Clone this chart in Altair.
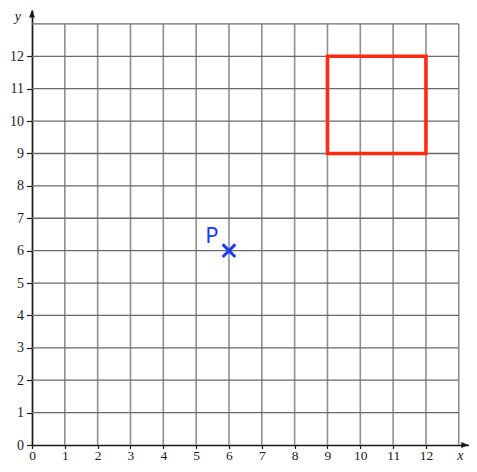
import altair as alt
import pandas as pd

# ---- data ----
tick_values = list(range(0, 13))
grid_lines = list(range(1, 14))
grid_max = 13
x_axis_max = 13.3
y_axis_max = 13.43

square_x = [9]
square_x2 = [12]
square_y = [9]
square_y2 = [12]

point_x = [6]
point_y = [6]
point_label = ["P"]

UX = 32.83
WX = x_axis_max * UX
PAD_L = 24
PAD_T = 2
SVG_W = 461
SVG_H = 456
HY = 435
UY = HY / y_axis_max

xs = alt.Scale(domain=[0, x_axis_max], nice=False, zero=False)
ys = alt.Scale(domain=[0, y_axis_max], nice=False, zero=False)

axis_common = dict(
    labelFont="Liberation Serif", labelColor="#1a1a1a",
    domainColor="#1a1a1a", domainWidth=1.7, tickColor="#1a1a1a", tickWidth=1.2,
    grid=False, title=None, values=tick_values, format="d",
    labelOverlap=False, labelFlush=False,
)
x_axis = alt.Axis(orient="bottom", labelPadding=0, tickSize=3.5, labelFontSize=13.5, **axis_common)
y_axis = alt.Axis(orient="left", labelPadding=3, tickSize=5.5, labelFontSize=14, **axis_common)


def X(f):
    return alt.X(f, scale=xs, axis=x_axis)


def Y(f):
    return alt.Y(f, scale=ys, axis=y_axis)


vdf = pd.DataFrame({"x": grid_lines, "y": [0] * len(grid_lines), "y2": [grid_max] * len(grid_lines)})
hdf = pd.DataFrame({"y": grid_lines, "x": [0] * len(grid_lines), "x2": [grid_max] * len(grid_lines)})

vgrid = alt.Chart(vdf).mark_rule(color="#8f8f8f", strokeWidth=1.6).encode(
    x=X("x:Q"), y=Y("y:Q"), y2="y2:Q"
)
hgrid = alt.Chart(hdf).mark_rule(color="#6a6a6a", strokeWidth=1.3).encode(
    x=X("x:Q"), x2="x2:Q", y=Y("y:Q")
)

r_arrow = 3.7
arrows = pd.DataFrame({
    "x": [x_axis_max - r_arrow / UX, 0],
    "y": [0, y_axis_max - r_arrow / UY],
    "a": [90, 0],
})
arrow_marks = alt.Chart(arrows).mark_point(
    shape="M -0.8 1 L 0 -1 L 0.8 1 Z", filled=True, color="#1a1a1a",
    size=(2 * r_arrow) ** 2, opacity=1,
).encode(x=X("x:Q"), y=Y("y:Q"), angle=alt.Angle("a:Q", scale=None))

sq = pd.DataFrame({"x": square_x, "x2": square_x2, "y": square_y, "y2": square_y2})
square = alt.Chart(sq).mark_rect(fillOpacity=0, stroke="#ff2a14", strokeWidth=3.6).encode(
    x=X("x:Q"), x2="x2:Q", y=Y("y:Q"), y2="y2:Q"
)

pdf = pd.DataFrame({"x": point_x, "y": point_y, "label": point_label})
cross = alt.Chart(pdf).mark_point(
    shape="M -1 -1 L 1 1 M -1 1 L 1 -1", filled=False, stroke="#1a3cf0",
    strokeWidth=3, size=(2 * 6.3) ** 2, opacity=1,
).encode(x=X("x:Q"), y=Y("y:Q"))
plabel = alt.Chart(pdf).mark_text(
    font="Noto Sans", fontSize=22, color="#1a3cf0", dx=-17, dy=-15
).encode(x=X("x:Q"), y=Y("y:Q"), text="label:N")

titles = pd.DataFrame({"x": [13.05, -0.43], "y": [-0.33, 13.2], "t": ["x", "y"]})
title_marks = alt.Chart(titles).mark_text(
    font="Liberation Serif", fontSize=14, fontStyle="italic", color="#1a1a1a"
).encode(x=X("x:Q"), y=Y("y:Q"), text="t:N")

chart = alt.layer(vgrid, hgrid, square, arrow_marks, cross, plabel, title_marks).properties(
    width=WX, height=HY,
    background="white",
    autosize=alt.AutoSizeParams(type="none"),
    padding={"left": PAD_L, "top": PAD_T, "right": max(SVG_W - PAD_L - WX, 0), "bottom": SVG_H - PAD_T - HY},
).configure_view(stroke=None)

chart.save("out.html", embed_options={"renderer": "svg", "actions": False})
